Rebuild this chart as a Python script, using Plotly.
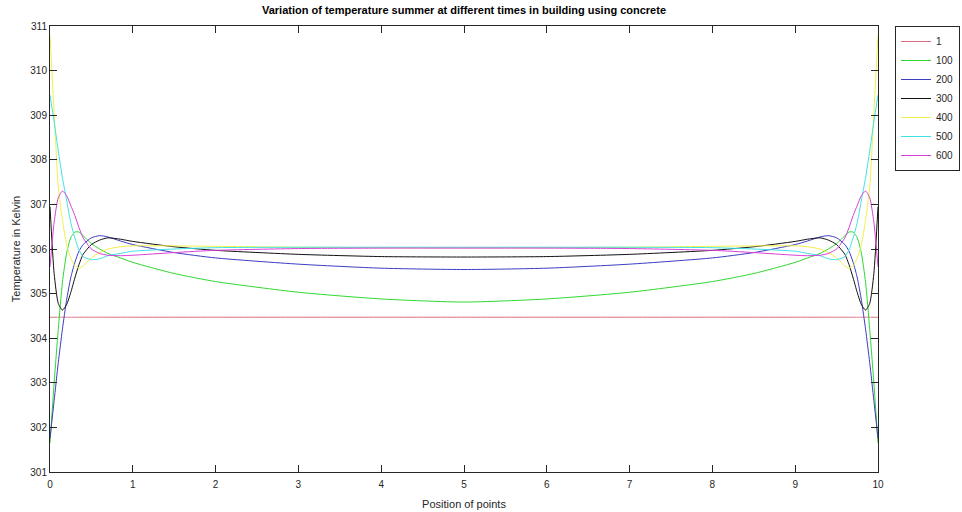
import plotly.graph_objects as go

x_pos = [0, 0.05, 0.1, 0.15, 0.2, 0.25, 0.3, 0.35, 0.4, 0.5, 0.6, 0.7, 0.85, 1.0, 1.5, 2, 3, 4, 5,
         6, 7, 8, 8.5, 9, 9.15, 9.3, 9.4, 9.5, 9.6, 9.65, 9.7, 9.75, 9.8, 9.85, 9.9, 9.95, 10]

t1 = [304.47] * 37

t100 = [301.65, 303.0, 304.2, 305.25, 305.9, 306.25, 306.38, 306.38, 306.3, 306.12, 306.0, 305.9, 305.8, 305.7,
        305.45, 305.27, 305.03, 304.88, 304.81,
        304.88, 305.03, 305.27, 305.45, 305.7, 305.8, 305.9, 306.0, 306.12, 306.3, 306.38, 306.38, 306.25, 305.9,
        305.25, 304.2, 303.0, 301.65]

t200 = [301.75, 302.6, 303.45, 304.2, 304.85, 305.35, 305.7, 305.95, 306.1, 306.25, 306.3, 306.27, 306.18, 306.1,
        305.92, 305.8, 305.66, 305.57, 305.54,
        305.57, 305.66, 305.8, 305.92, 306.1, 306.18, 306.27, 306.3, 306.25, 306.1, 305.95, 305.7, 305.35, 304.85,
        304.2, 303.45, 302.6, 301.75]

t300 = [306.95, 305.45, 304.78, 304.63, 304.75, 305.02, 305.35, 305.65, 305.88, 306.1, 306.2, 306.25, 306.22, 306.17,
        306.05, 305.97, 305.88, 305.83, 305.82,
        305.83, 305.88, 305.97, 306.05, 306.17, 306.22, 306.25, 306.2, 306.1, 305.88, 305.65, 305.35, 305.02, 304.75,
        304.63, 304.78, 305.45, 306.95]

t400 = [310.8, 309.05, 307.4, 306.65, 306.1, 305.8, 305.62, 305.57, 305.62, 305.8, 305.92, 306.0, 306.05, 306.07,
        306.07, 306.06, 306.04, 306.03, 306.03,
        306.03, 306.04, 306.06, 306.07, 306.07, 306.05, 306.0, 305.92, 305.8, 305.62, 305.57, 305.62, 305.8, 306.1,
        306.65, 307.4, 309.05, 310.8]

t500 = [309.45, 308.85, 308.2, 307.6, 307.1, 306.6, 306.25, 305.98, 305.83, 305.76, 305.78, 305.85, 305.9, 305.95,
        306.0, 306.03, 306.04, 306.04, 306.04,
        306.04, 306.04, 306.03, 306.0, 305.95, 305.9, 305.85, 305.78, 305.76, 305.83, 305.98, 306.25, 306.6, 307.1,
        307.6, 308.2, 308.85, 309.45]

t600 = [305.6, 306.6, 307.15, 307.3, 307.2, 306.98, 306.75, 306.48, 306.25, 306.0, 305.9, 305.86, 305.85, 305.86,
        305.92, 305.97, 306.01, 306.02, 306.02,
        306.02, 306.01, 305.97, 305.92, 305.86, 305.85, 305.86, 305.9, 306.0, 306.25, 306.48, 306.75, 306.98, 307.2,
        307.3, 307.15, 306.6, 305.6]

series_names = ["1", "100", "200", "300", "400", "500", "600"]
series_values = [t1, t100, t200, t300, t400, t500, t600]
series_colors = ["#d9707f", "#2fd82f", "#3c3cc4", "#111111", "#f2f048", "#3ee2e8", "#d840d8"]

x_ticks = list(range(0, 11))
y_ticks = list(range(301, 312))

fig = go.Figure()
for name, vals, col in zip(series_names, series_values, series_colors):
    fig.add_trace(go.Scatter(x=x_pos, y=vals, name=name, mode="lines",
                             line=dict(color=col, width=1, shape="spline", smoothing=0.6)))

axis_col = "#262626"
fig.update_layout(
    width=962, height=512,
    margin=dict(l=50, r=84, t=26, b=40, autoexpand=False),
    paper_bgcolor="white", plot_bgcolor="white",
    font=dict(family="Liberation Sans, Arial, sans-serif", size=10, color=axis_col),
    title=dict(text="<b>Variation of temperature summer at different times in building using concrete</b>",
               x=(50 + 414) / 962, xanchor="center", y=1 - 10 / 512, yanchor="middle",
               font=dict(size=11, color="#000000")),
    showlegend=True,
    legend=dict(x=(960 - 50) / 828, y=1.0, xanchor="right", yanchor="top",
                bordercolor=axis_col, borderwidth=1, bgcolor="white",
                font=dict(size=10, color=axis_col), tracegroupgap=0),
)
fig.update_xaxes(range=[0, 10], tickvals=x_ticks, ticktext=[str(v) for v in x_ticks],
                 ticks="inside", ticklen=7, tickcolor=axis_col, showline=True, linecolor=axis_col,
                 linewidth=1, mirror="ticks", showgrid=False, zeroline=False, ticklabelstandoff=3,
                 title=dict(text="Position of points", font=dict(size=11, color=axis_col), standoff=11),
                 automargin=False)
fig.update_yaxes(range=[301, 311], tickvals=y_ticks, ticktext=[str(v) for v in y_ticks],
                 ticks="inside", ticklen=7, tickcolor=axis_col, showline=True, linecolor=axis_col,
                 linewidth=1, mirror="ticks", showgrid=False, zeroline=False,
                 title=dict(text="Temperature in Kelvin", font=dict(size=11, color=axis_col), standoff=7),
                 automargin=False)

fig.write_html("out.html", config={"displayModeBar": False},
               post_script="document.body.style.margin='0';document.body.style.padding='0';"
                           "document.body.style.overflow='hidden';")
